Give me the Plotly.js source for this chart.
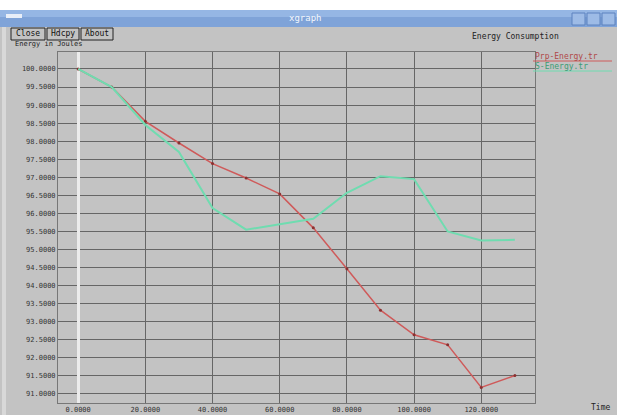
<!DOCTYPE html>
<html><head><meta charset="utf-8">
<script src="https://cdn.plot.ly/plotly-3.0.1.min.js"></script>
<style>html,body{margin:0;padding:0;background:#fff;}#g{width:617px;height:415px;}</style>
</head><body><div id="g"></div>
<script>
// Data
const timeValues = [0, 10, 20, 30, 40, 50, 60, 70, 80, 90, 100, 110, 120, 130];
const prpEnergy = [100.0, 99.5, 98.55, 97.95, 97.38, 96.98, 96.54, 95.6, 94.47, 93.32, 92.64, 92.36, 91.18, 91.51];
const sEnergy   = [100.0, 99.5, 98.45, 97.7, 96.15, 95.55, 95.7, 95.85, 96.57, 97.03, 96.95, 95.5, 95.25, 95.27];
const seriesNames = ["Prp-Energy.tr", "S-Energy.tr"];
const xTickVals = [0, 20, 40, 60, 80, 100, 120];
const yTickVals = [91, 91.5, 92, 92.5, 93, 93.5, 94, 94.5, 95, 95.5, 96, 96.5, 97, 97.5, 98, 98.5, 99, 99.5, 100];

const W = 617, H = 415;
const L = 58, R = 535, T = 52, B = 403;
const px = x => (x - L) / (R - L);
const py = y => (B - y) / (B - T);

const red = '#cf5a5a', green = '#6fdcb0';
const mono = 'DejaVu Sans Mono, monospace';

const traces = [
  {x: timeValues, y: prpEnergy, name: seriesNames[0], mode: 'lines+markers',
   line: {color: red, width: 1.5}, marker: {color: '#8a3030', size: 3}},
  {x: timeValues, y: sEnergy, name: seriesNames[1], mode: 'lines',
   line: {color: green, width: 2}}
];

function rect(x0, y0, x1, y1, fill, lineColor, lw) {
  return {type: 'rect', xref: 'paper', yref: 'paper', x0: px(x0), x1: px(x1), y0: py(y1), y1: py(y0),
          fillcolor: fill, line: {color: lineColor || fill, width: lw || 0}, layer: 'below'};
}
function txt(x, y, s, color, size, anchor, font) {
  return {xref: 'paper', yref: 'paper', x: px(x), y: py(y), text: s, showarrow: false,
          xanchor: anchor || 'left', yanchor: 'middle',
          font: {family: font || mono, size: size || 8, color: color || '#222'}};
}

const shapes = [
  rect(0, 0, 617, 10, '#ffffff'),
  rect(0, 10, 617, 415, '#c3c3c3'),
  rect(0, 10, 617, 27, '#7fa3d8'),
  rect(0, 10, 617, 17, '#95b6e4'),
  rect(6, 14, 22, 18, '#e8eef8'),
  rect(572, 13, 585, 25, '#9dbbe6', '#5d82bf', 1),
  rect(587, 13, 600, 25, '#9dbbe6', '#5d82bf', 1),
  rect(602, 13, 615, 25, '#9dbbe6', '#5d82bf', 1),
  rect(11, 28, 45, 40, '#c3c3c3', '#222', 1),
  rect(47, 28, 79, 40, '#c3c3c3', '#222', 1),
  rect(81, 28, 113, 40, '#c3c3c3', '#222', 1),
  rect(2, 27, 6, 415, '#d8d8d8'),
  // legend underlines
  {type: 'line', xref: 'paper', yref: 'paper', x0: px(533), x1: px(612), y0: py(61), y1: py(61), line: {color: red, width: 1}},
  {type: 'line', xref: 'paper', yref: 'paper', x0: px(533), x1: px(612), y0: py(71), y1: py(71), line: {color: green, width: 1}}
];

const annotations = [
  txt(305, 18, 'xgraph', '#f4f7fc', 9, 'center'),
  txt(28, 34, 'Close', '#111', 8, 'center'),
  txt(63, 34, 'Hdcpy', '#111', 8, 'center'),
  txt(97, 34, 'About', '#111', 8, 'center'),
  txt(13, 44, 'Energy in Joules', '#222', 7),
  txt(470, 37, 'Energy Consumption', '#222', 8),
  txt(533, 56, seriesNames[0], '#b04848', 8),
  txt(533, 66, seriesNames[1], '#3c9c74', 8),
  txt(612, 407, 'Time', '#222', 8, 'right')
];

const layout = {
  width: W, height: H,
  margin: {l: L, r: W - R, t: T, b: H - B, pad: 0},
  paper_bgcolor: '#c3c3c3', plot_bgcolor: '#c3c3c3',
  showlegend: false,
  font: {family: mono, size: 8, color: '#333'},
  xaxis: {range: [-6, 136], tickvals: xTickVals, tickformat: '.4f',
          showgrid: true, gridcolor: '#666', gridwidth: 1,
          zeroline: true, zerolinecolor: '#ececec', zerolinewidth: 3,
          showline: true, linecolor: '#777', mirror: true, ticks: '', ticklabelstandoff: 0,
          tickfont: {family: mono, size: 7, color: '#333'}},
  yaxis: {range: [90.75, 100.47], tickvals: yTickVals, tickformat: '.4f',
          showgrid: true, gridcolor: '#666', gridwidth: 1, zeroline: false,
          showline: true, linecolor: '#777', mirror: true, ticks: '',
          tickfont: {family: mono, size: 7, color: '#333'}},
  shapes: shapes,
  annotations: annotations
};

Plotly.newPlot('g', traces, layout, {displayModeBar: false, staticPlot: true});
</script></body></html>
